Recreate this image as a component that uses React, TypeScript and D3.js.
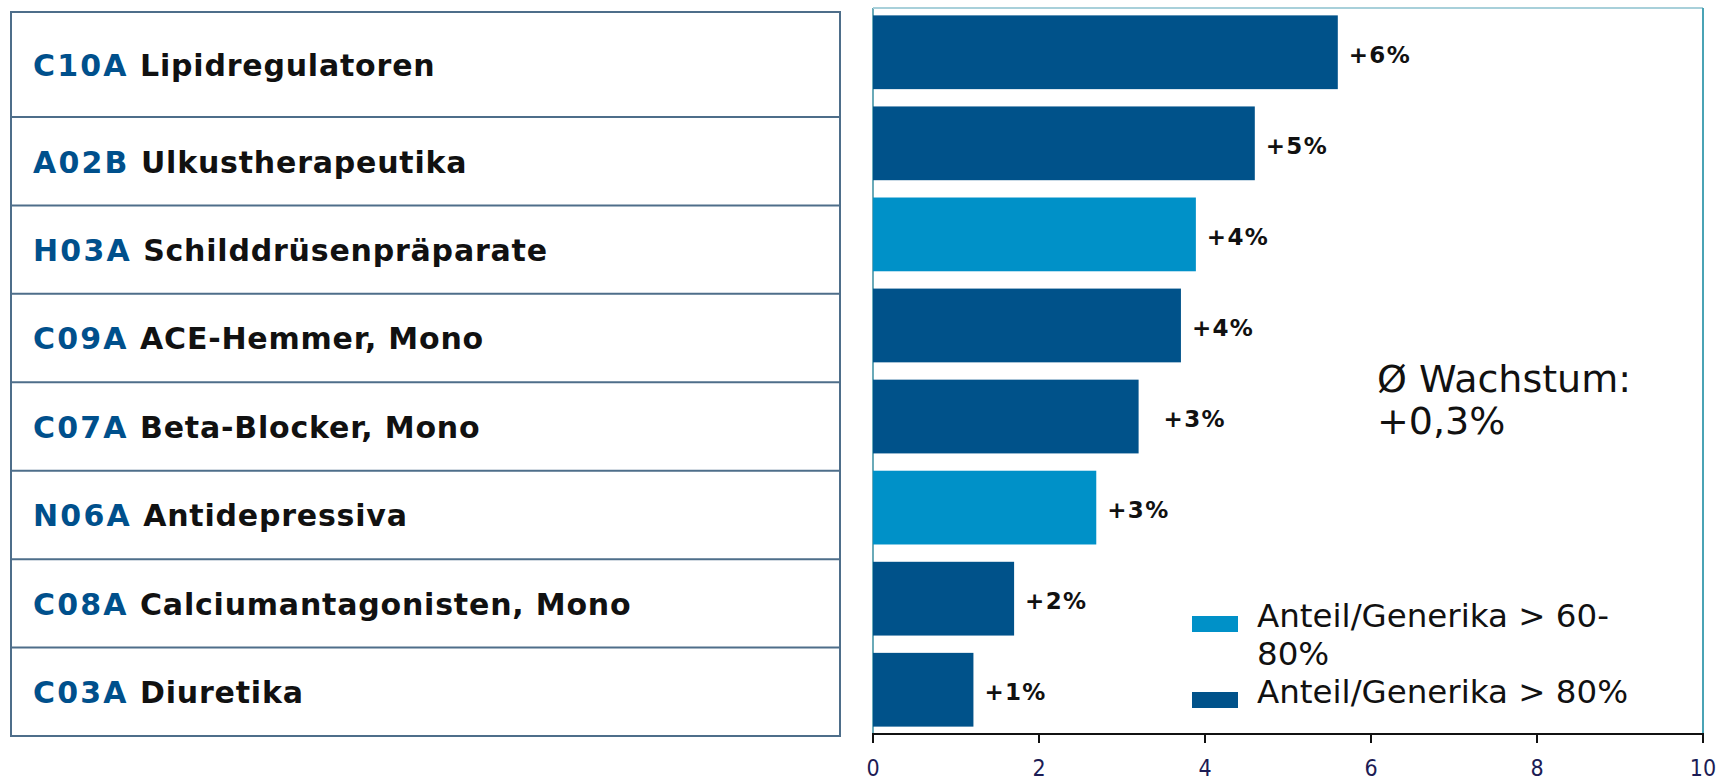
import React from "react";
import * as d3 from "d3";

const codes = ["C10A", "A02B", "H03A", "C09A", "C07A", "N06A", "C08A", "C03A"];
const names = [
  "Lipidregulatoren",
  "Ulkustherapeutika",
  "Schilddrüsenpräparate",
  "ACE-Hemmer, Mono",
  "Beta-Blocker, Mono",
  "Antidepressiva",
  "Calciumantagonisten, Mono",
  "Diuretika",
];
const values = [5.6, 4.6, 3.89, 3.71, 3.2, 2.69, 1.7, 1.21];
const groups = ["hi", "hi", "mid", "hi", "hi", "mid", "hi", "hi"];
const valueLabels = ["+6%", "+5%", "+4%", "+4%", "+3%", "+3%", "+2%", "+1%"];
const labelNudge = [0, 0, 0, 0, 14, 0, 0, 0];
const xTicks = [0, 2, 4, 6, 8, 10];
const legendItems = [
  { key: "mid", lines: ["Anteil/Generika > 60-", "80%"] },
  { key: "hi", lines: ["Anteil/Generika > 80%"] },
];
const avgLines = ["Ø Wachstum:", "+0,3%"];

const colors: Record<string, string> = { hi: "#00528A", mid: "#0091C8" };

export default function App() {
  const W = 1726, H = 782;
  const plotL = 873, plotR = 1703, plotT = 8, plotB = 734;
  const x = d3.scaleLinear().domain([0, 10]).range([plotL, plotR]);
  const y = d3
    .scaleBand<string>()
    .domain(codes)
    .range([plotT + 1, plotB - 1])
    .paddingInner(0.19)
    .paddingOuter(0.07);

  // table rows: first row taller
  const tableT = 12, tableB = 736, tableL = 11, tableR = 840;
  const firstH = 105;
  const restH = (tableB - tableT - firstH) / (codes.length - 1);
  const rowEdges = codes.map((_, i) => (i === 0 ? tableT : tableT + firstH + (i - 1) * restH));
  rowEdges.push(tableB);

  const font = "'DejaVu Sans', Verdana, sans-serif";

  return (
    <svg
      width={W}
      height={H}
      style={{ position: "absolute", left: 0, top: 0, background: "#fff" }}
      fontFamily={font}
    >
      {/* left table */}
      <rect x={tableL} y={tableT} width={tableR - tableL} height={tableB - tableT} fill="none" stroke="#4E6E8A" strokeWidth={2} />
      {rowEdges.slice(1, -1).map((yy, i) => (
        <line key={i} x1={tableL} x2={tableR} y1={yy} y2={yy} stroke="#4E6E8A" strokeWidth={2} />
      ))}
      {codes.map((c, i) => {
        const cy = (rowEdges[i] + rowEdges[i + 1]) / 2;
        return (
          <text key={c} x={33} y={cy} dy="0.38em" fontSize={30} fontWeight="bold">
            <tspan fill="#00508C" letterSpacing={2.2}>{c}</tspan>
            <tspan fill="#111" letterSpacing={0.8}> {names[i]}</tspan>
          </text>
        );
      })}

      {/* plot frame */}
      <line x1={plotL} x2={plotL} y1={plotT} y2={plotB} stroke="#6AAAB8" strokeWidth={2} />
      <line x1={plotL} x2={plotR} y1={plotT} y2={plotT} stroke="#A8D0DA" strokeWidth={2} />
      <line x1={plotR} x2={plotR} y1={plotT} y2={plotB} stroke="#4AA3B5" strokeWidth={2} />

      {/* bars */}
      {codes.map((c, i) => (
        <rect
          key={c}
          x={x(0)}
          y={y(c)}
          width={x(values[i]) - x(0)}
          height={y.bandwidth()}
          fill={colors[groups[i]]}
        />
      ))}
      {codes.map((c, i) => (
        <text
          key={c}
          x={x(values[i]) + 11 + labelNudge[i]}
          y={(y(c) as number) + y.bandwidth() / 2}
          dy="0.45em"
          fontSize={23}
          fontWeight="bold"
          letterSpacing={1.3}
          fill="#111"
        >
          {valueLabels[i]}
        </text>
      ))}

      {/* x axis */}
      <line x1={plotL - 1} x2={plotR + 1} y1={plotB} y2={plotB} stroke="#111" strokeWidth={2} />
      {xTicks.map((t) => (
        <g key={t}>
          <line x1={x(t)} x2={x(t)} y1={plotB} y2={plotB + 9} stroke="#111" strokeWidth={2} />
          <text
            x={x(t)}
            y={776}
            textAnchor="middle"
            fontSize={23}
            fontFamily="'DejaVu Sans Condensed', 'DejaVu Sans', sans-serif"
            fill="#1C1C55"
          >
            {t}
          </text>
        </g>
      ))}

      {/* average annotation */}
      {avgLines.map((l, i) => (
        <text key={i} x={1377} y={392 + i * 42} fontSize={38} fill="#111">
          {l}
        </text>
      ))}

      {/* legend */}
      {legendItems.map((it, i) => {
        const baseY = i === 0 ? 627 : 703;
        return (
          <g key={it.key}>
            <rect x={1192} y={i === 0 ? 616 : 692} width={46} height={16} fill={colors[it.key]} />
            {it.lines.map((ln, j) => (
              <text key={j} x={1257} y={baseY + j * 38} fontSize={32.5} fill="#111">
                {ln}
              </text>
            ))}
          </g>
        );
      })}
    </svg>
  );
}
